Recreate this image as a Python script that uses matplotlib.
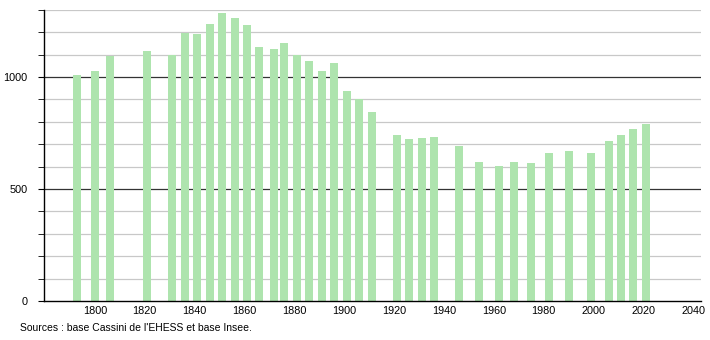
import matplotlib
matplotlib.use("Agg")
import matplotlib.pyplot as plt

# census years and population
years = [1793, 1800, 1806, 1821, 1831, 1836, 1841, 1846, 1851, 1856,
         1861, 1866, 1872, 1876, 1881, 1886, 1891, 1896, 1901, 1906,
         1911, 1921, 1926, 1931, 1936, 1946, 1954, 1962, 1968, 1975,
         1982, 1990, 1999, 2006, 2011, 2016, 2021]
population = [1009, 1028, 1092, 1116, 1098, 1196, 1190, 1239, 1286, 1263,
              1233, 1134, 1125, 1150, 1098, 1073, 1027, 1064, 939, 903,
              845, 742, 723, 729, 733, 693, 622, 604, 622, 617,
              662, 669, 659, 716, 739, 769, 792]

x_ticks = list(range(1800, 2041, 20))
y_labels = [0, 500, 1000]
source = "Sources : base Cassini de l'EHESS et base Insee."

plt.rcParams['font.family'] = ['Liberation Sans', 'DejaVu Sans']

fig = plt.figure(figsize=(7.1, 3.4), dpi=100)
ax = fig.add_axes([0.062, 0.115, 0.925, 0.856])

ax.bar(years, population, width=3.2, color='#aee4ae', zorder=2)

# horizontal grid: light every 100, dark at 500 and 1000
for v in range(100, 1301, 100):
    if v in (500, 1000):
        ax.axhline(v, color='#333333', lw=0.9, zorder=1)
    else:
        ax.axhline(v, color='#c8c8c8', lw=0.9, zorder=1)

ax.set_xlim(1779.6, 2043)
ax.set_ylim(0, 1300)
ax.set_xticks(x_ticks)
ax.set_yticks(y_labels)
ax.set_yticks(range(0, 1301, 100), minor=True)
ax.tick_params(axis='x', length=0, labelsize=7.8, pad=4)
ax.tick_params(axis='y', which='major', length=4, labelsize=7.8, pad=8)
ax.tick_params(axis='y', which='minor', length=4)

for s in ['top', 'right']:
    ax.spines[s].set_visible(False)
ax.spines['left'].set_linewidth(1.0)
ax.spines['bottom'].set_linewidth(1.0)

fig.text(20 / 710, 1 - 328 / 340, source, fontsize=7.5, va='center', ha='left')

fig.savefig('out.png', dpi=100)
